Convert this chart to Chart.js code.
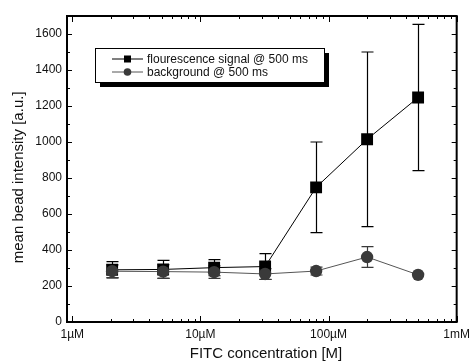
<!DOCTYPE html>
<html>
<head>
<meta charset="utf-8">
<script src="https://cdn.jsdelivr.net/npm/chart.js@4"></script>
<style>
html,body{margin:0;padding:0;background:#fff;}
#wrap{width:475px;height:363px;}
</style>
</head>
<body>
<div id="wrap"><canvas id="c" width="475" height="363"></canvas></div>
<script>
// ---- data ----
const concentrations = [2.048e-6, 5.12e-6, 12.8e-6, 32e-6, 80e-6, 200e-6, 500e-6];
const signalValues = [290, 292, 302, 308, 748, 1015, 1247];
const signalErrors = [45, 50, 45, 72, 252, 485, 406];
const backgroundValues = [282, 280, 277, 267, 283, 361, 262];
const backgroundErrors = [35, 38, 35, 30, 22, 58, 0];
const xTickValues = [1e-6, 1e-5, 1e-4, 1e-3];
const xTickLabels = ['1µM', '10µM', '100µM', '1mM'];
const yTickValues = [0, 200, 400, 600, 800, 1000, 1200, 1400, 1600];
const seriesNames = ['flourescence signal @ 500 ms', 'background @ 500 ms'];

const FONT = '"Liberation Sans", Arial, sans-serif';
const BG_COLOR = '#3a3a3a';

function pts(xs, ys){ return xs.map((x,i)=>({x:x, y:ys[i]})); }

const errorBars = {
  id:'errorBars',
  beforeDatasetsDraw(chart){
    const ctx = chart.ctx, xs = chart.scales.x, ys = chart.scales.y;
    const sets = [[signalValues, signalErrors, '#000'], [backgroundValues, backgroundErrors, BG_COLOR]];
    ctx.save();
    ctx.lineWidth = 1.2;
    sets.forEach(([vals, errs, col])=>{
      ctx.strokeStyle = col;
      vals.forEach((v,i)=>{
        if(!errs[i]) return;
        const px = Math.round(xs.getPixelForValue(concentrations[i]))+0.5;
        const t = ys.getPixelForValue(v+errs[i]);
        const b = ys.getPixelForValue(v-errs[i]);
        ctx.beginPath();
        ctx.moveTo(px,t); ctx.lineTo(px,b);
        ctx.moveTo(px-6,t); ctx.lineTo(px+6,t);
        ctx.moveTo(px-6,b); ctx.lineTo(px+6,b);
        ctx.stroke();
      });
    });
    ctx.restore();
  }
};

const frameTicks = {
  id:'frameTicks',
  afterDatasetsDraw(chart){
    const ctx = chart.ctx, a = chart.chartArea, xs = chart.scales.x, ys = chart.scales.y;
    ctx.save();
    ctx.strokeStyle = '#000';
    ctx.lineWidth = 1;
    ctx.beginPath();
    for(let v=0; v<=1700; v+=100){
      const py = Math.round(ys.getPixelForValue(v))+0.5;
      const len = (v%200===0)?5:3;
      ctx.moveTo(a.left, py); ctx.lineTo(a.left+len, py);
      ctx.moveTo(a.right, py); ctx.lineTo(a.right-len, py);
    }
    for(let e=-6; e<=-3; e++){
      for(let m=1; m<=9; m++){
        const v = m*Math.pow(10,e);
        if(v < xs.min || v > xs.max*1.0001) continue;
        const px = Math.round(xs.getPixelForValue(v))+0.5;
        const len = (m===1)?6:3;
        ctx.moveTo(px, a.bottom); ctx.lineTo(px, a.bottom-len);
        ctx.moveTo(px, a.top); ctx.lineTo(px, a.top+len);
        if(e===-3) break;
      }
    }
    ctx.stroke();
    ctx.lineWidth = 2;
    ctx.strokeRect(a.left, a.top, a.right-a.left, a.bottom-a.top);
    ctx.restore();

    // legend
    ctx.save();
    const lx=95, ly=48, lw=229, lh=34;
    ctx.fillStyle='#000';
    ctx.fillRect(lx+5, ly+5, lw, lh);
    ctx.fillStyle='#fff';
    ctx.fillRect(lx, ly, lw, lh);
    ctx.strokeStyle='#000'; ctx.lineWidth=1;
    ctx.strokeRect(lx+0.5, ly+0.5, lw, lh);
    const rows=[59,72];
    ctx.font = '12px '+FONT;
    ctx.textBaseline='middle';
    rows.forEach((ry,i)=>{
      const col = i===0 ? '#000' : BG_COLOR;
      ctx.strokeStyle = i===0 ? '#000' : '#555';
      ctx.lineWidth=1;
      ctx.beginPath(); ctx.moveTo(112, ry); ctx.lineTo(143, ry); ctx.stroke();
      ctx.fillStyle = col;
      if(i===0){ ctx.fillRect(124, ry-3.5, 7, 7); }
      else { ctx.beginPath(); ctx.arc(127.5, ry, 3.8, 0, Math.PI*2); ctx.fill(); }
      ctx.fillStyle='#111';
      ctx.fillText(seriesNames[i], 147, ry+0.5);
    });
    ctx.restore();
  }
};

new Chart(document.getElementById('c'), {
  type:'line',
  data:{
    datasets:[
      {label:seriesNames[1], data:pts(concentrations, backgroundValues), borderColor:'#555', backgroundColor:BG_COLOR,
       borderWidth:1, pointStyle:'circle', pointRadius:6.2, pointBorderWidth:0, pointBackgroundColor:BG_COLOR, tension:0},
      {label:seriesNames[0], data:pts(concentrations, signalValues), borderColor:'#000', backgroundColor:'#000',
       borderWidth:1, pointStyle:'rect', pointRadius:8.4, pointBorderWidth:0, pointBackgroundColor:'#000', tension:0}
    ]
  },
  options:{
    responsive:false, animation:false, devicePixelRatio:1,
    layout:{padding:{top:16, right:10, left:0, bottom:0}},
    plugins:{legend:{display:false}, tooltip:{enabled:false}},
    scales:{
      x:{
        type:'logarithmic', min:0.91e-6, max:1e-3,
        grid:{display:false, drawTicks:false}, border:{display:false},
        afterBuildTicks(s){ s.ticks = xTickValues.map(v=>({value:v})); },
        afterFit(s){ s.height = 41; },
        ticks:{ autoSkip:false, maxRotation:0, padding:5, color:'#111', font:{family:FONT, size:12},
          callback(v){ const i = xTickValues.findIndex(t=>Math.abs(t-v)/t<1e-6); return i>=0 ? xTickLabels[i] : ''; } },
        title:{display:true, text:'  FITC concentration [M]', color:'#111', font:{family:FONT, size:15}, padding:{top:3,bottom:0}}
      },
      y:{
        min:0, max:1700,
        grid:{display:false, drawTicks:false}, border:{display:false},
        afterBuildTicks(s){ s.ticks = yTickValues.map(v=>({value:v})); },
        afterFit(s){ s.width = 67; },
        ticks:{ padding:5, color:'#111', font:{family:FONT, size:12}, callback(v){ return String(v); } },
        title:{display:true, text:'mean bead intensity [a.u.]    ', color:'#111', font:{family:FONT, size:15}, padding:{top:10,bottom:0}}
      }
    }
  },
  plugins:[errorBars, frameTicks]
});
</script>
</body>
</html>
